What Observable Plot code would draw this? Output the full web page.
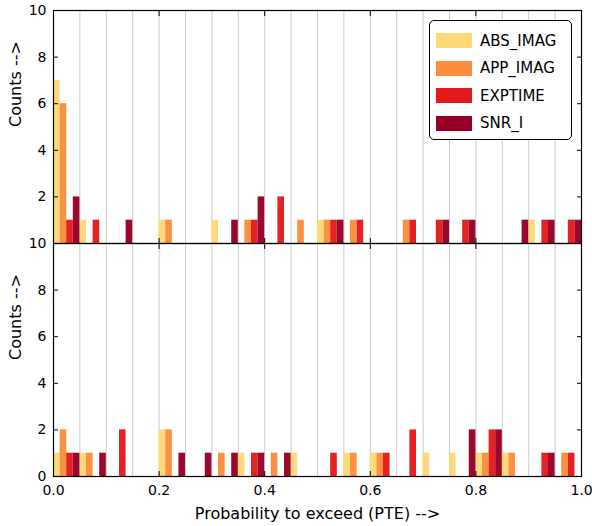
<!DOCTYPE html>
<html>
<head>
<meta charset="utf-8">
<script src="https://cdn.jsdelivr.net/npm/d3@7"></script>
<script src="https://cdn.jsdelivr.net/npm/@observablehq/plot@0.6"></script>
<style>
  body { margin: 0; background: white; font-family: "DejaVu Sans", sans-serif; }
  #wrap { position: relative; width: 592px; }
  #wrap svg { display: block; }
  .legend { position: absolute; left: 429px; top: 20px; width: 143px; height: 120px; border: 1px solid #000; border-radius: 5px; background: white; font-size: 15px; box-sizing: border-box; padding: 6px 0 0 6px; }
  .legend div { display: flex; align-items: center; height: 27.5px; }
  .legend span.sw { width: 36px; height: 15px; margin-right: 8px; }
</style>
</head>
<body>
<div id="wrap"></div>
<script>
const series = ["ABS_IMAG", "APP_IMAG", "EXPTIME", "SNR_I"];
const colors = ["#fed976", "#fd8d3c", "#e31a1c", "#970026"];
const binWidth = 0.05;

// counts per 0.05 bin, 20 bins
const topCounts = {
  ABS_IMAG: [7,1,0,0,1,0,1,0,0,0,1,0,0,0,0,0,0,0,1,0],
  APP_IMAG: [6,0,0,0,1,0,0,1,0,1,1,1,0,1,0,0,0,0,0,0],
  EXPTIME:  [1,1,0,0,0,0,0,1,2,0,1,1,0,1,1,1,0,0,1,1],
  SNR_I:    [2,0,1,0,0,0,1,2,0,0,1,0,0,0,1,1,0,1,1,1]
};
const bottomCounts = {
  ABS_IMAG: [1,1,0,0,2,0,0,1,0,1,0,1,1,0,1,1,1,1,0,0],
  APP_IMAG: [2,1,0,0,2,0,1,0,1,0,0,1,1,0,0,0,1,1,0,1],
  EXPTIME:  [1,0,2,0,0,0,0,1,0,0,1,0,1,2,0,0,2,0,1,1],
  SNR_I:    [1,1,0,0,1,1,1,1,1,0,0,0,0,0,0,2,2,0,1,0]
};
const xTicks = [0, 0.2, 0.4, 0.6, 0.8, 1.0];
const gridX = d3.range(21).map(i => i * binWidth);

function toRows(counts) {
  const rows = [];
  series.forEach((s, k) => counts[s].forEach((c, i) => {
    if (c > 0) rows.push({series: s, count: c,
      x1: i * binWidth + k * binWidth / 4, x2: i * binWidth + (k + 1) * binWidth / 4});
  }));
  return rows;
}

function panel(counts, opts) {
  return Plot.plot({
    width: 592, height: opts.height,
    marginLeft: 53, marginRight: 11, marginTop: opts.marginTop, marginBottom: opts.marginBottom,
    style: {fontFamily: "DejaVu Sans", fontSize: "14px", color: "black", overflow: "visible"},
    x: {domain: [0, 1]},
    y: {domain: [0, 10]},
    color: {domain: series, range: colors},
    marks: [
      Plot.ruleX(gridX.slice(1, -1), {stroke: "#ccc", strokeWidth: 1}),
      Plot.rectY(toRows(counts), {x1: "x1", x2: "x2", y: "count", fill: "series", fillOpacity: 0.97}),
      Plot.axisY(opts.yTicks, {anchor: "left", tickSize: -5, tickPadding: 12, label: null}),
      Plot.axisY(opts.yTicks, {anchor: "right", tickSize: -5, tickFormat: () => "", label: null}),
      Plot.axisX(xTicks, {anchor: "top", tickSize: -5, tickFormat: () => "", label: null}),
      opts.xLabels
        ? Plot.axisX(xTicks, {anchor: "bottom", tickSize: -5, tickPadding: 14, tickFormat: d3.format(".1f"), label: null})
        : Plot.axisX(xTicks, {anchor: "bottom", tickSize: -5, tickFormat: () => "", label: null}),
      Plot.frame({stroke: "black", strokeWidth: 1.2}),
      Plot.text(["Counts -->"], {frameAnchor: "left", dx: -38, rotate: -90, fontSize: 16}),
      opts.xLabels ? Plot.text(["Probability to exceed (PTE) -->"], {frameAnchor: "bottom", dy: 42, fontSize: 16}) : null
    ]
  });
}

const wrap = document.getElementById("wrap");
wrap.append(panel(topCounts, {height: 243, marginTop: 10, marginBottom: 0, yTicks: [2,4,6,8,10], xLabels: false}));
wrap.append(panel(bottomCounts, {height: 283, marginTop: 0, marginBottom: 50, yTicks: [0,2,4,6,8,10], xLabels: true}));

const legend = document.createElement("div");
legend.className = "legend";
series.forEach((s, k) => {
  const row = document.createElement("div");
  row.innerHTML = `<span class="sw" style="background:${colors[k]}"></span>${s}`;
  legend.append(row);
});
wrap.append(legend);
</script>
</body>
</html>
